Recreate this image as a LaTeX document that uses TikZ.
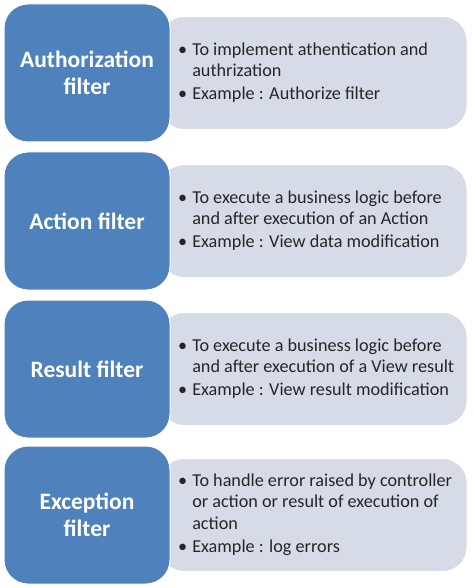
\documentclass[tikz,border=0pt]{standalone}
\usepackage{fontspec}
\setmainfont{Carlito}
\usetikzlibrary{positioning}
\definecolor{filterblue}{RGB}{79,129,189}
\definecolor{infogrey}{RGB}{214,219,231}

\begin{document}
\begin{tikzpicture}[x=1pt,y=-1pt]
    \tikzset{FilterStyle/.style= {draw=white, line width=1pt,
        fill  = filterblue,
        rounded corners=24pt,
        minimum width=166pt, minimum height=138pt,
        text  = white, align=center,
        font  = \bfseries\fontsize{23.5}{27}\selectfont},
      InfoStyle/.style = {draw=white, line width=1pt,
        fill  = infogrey,
        rounded corners=24pt,
        minimum width=307pt, minimum height=113pt},
      TextStyle/.style = {anchor=west, inner sep=0pt,
        text  = black!85,
        font  = \fontsize{18.2}{21.5}\selectfont}}
    \useasboundingbox (0,0) rectangle (474,588);

    \node[InfoStyle] (I1) at (313.5,73) {};
    \node[FilterStyle] (F1) at (87,73) {Authorization\\filter};
    \node[TextStyle] (T1) at (178,73) {\begin{tabular}{@{}l@{\hspace{5pt}}l@{}}
      \textbullet & To implement athentication and\\
                  & authrization\\[1.5pt]
      \textbullet & Example : Authorize filter\end{tabular}};

    \node[InfoStyle] (I2) at (313.5,221) {};
    \node[FilterStyle] (F2) at (87,221) {Action filter};
    \node[TextStyle] (T2) at (178,221) {\begin{tabular}{@{}l@{\hspace{5pt}}l@{}}
      \textbullet & To execute a business logic before\\
                  & and after execution of an Action\\[1.5pt]
      \textbullet & Example : View data modification\end{tabular}};

    \node[InfoStyle] (I3) at (313.5,369) {};
    \node[FilterStyle] (F3) at (87,369) {Result filter};
    \node[TextStyle] (T3) at (178,369) {\begin{tabular}{@{}l@{\hspace{5pt}}l@{}}
      \textbullet & To execute a business logic before\\
                  & and after execution of a View result\\[1.5pt]
      \textbullet & Example : View result modification\end{tabular}};

    \node[InfoStyle] (I4) at (313.5,515) {};
    \node[FilterStyle] (F4) at (87,515) {Exception\\filter};
    \node[TextStyle] (T4) at (178,515) {\begin{tabular}{@{}l@{\hspace{5pt}}l@{}}
      \textbullet & To handle error raised by controller\\
                  & or action or result of execution of\\
                  & action\\[1.5pt]
      \textbullet & Example : log errors\end{tabular}};
  \end{tikzpicture}
\end{document}
